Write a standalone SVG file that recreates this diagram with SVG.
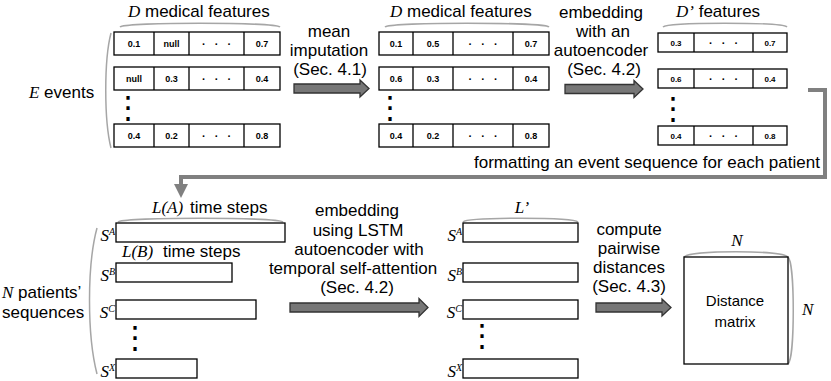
<svg xmlns="http://www.w3.org/2000/svg" width="831" height="381" viewBox="0 0 831 381">
<style>
.t{font-family:"Liberation Sans",Arial,sans-serif;font-size:17px;fill:#000}
.it{font-family:"Liberation Serif","Times New Roman",serif;font-style:italic}
.c{text-anchor:middle}
.cell{fill:#fff;stroke:#000;stroke-width:1.3}
.dv{stroke:#000;stroke-width:1.3}
.num{font-family:"Liberation Sans",Arial,sans-serif;font-weight:bold;font-size:9px;text-anchor:middle;fill:#000}
.n8{font-size:8px}
.dots{font-family:"Liberation Sans",Arial,sans-serif;font-weight:bold;font-size:11px;text-anchor:middle;word-spacing:6px}
.vd{font-family:"DejaVu Sans",sans-serif;font-size:31px;text-anchor:middle}
.brace{fill:none;stroke:#a6a6a6;stroke-width:1.5}
.blk{fill:#777;stroke:#333;stroke-width:1.3}
.conn{fill:none;stroke:#808080;stroke-width:4}
.seq{fill:#fff;stroke:#000;stroke-width:1.3}
.lab{font-family:"Liberation Serif","Times New Roman",serif;font-style:italic;font-size:17px;text-anchor:end}
.sup{font-size:10px}
.dm{font-family:"Liberation Sans",Arial,sans-serif;font-size:15px;text-anchor:middle}
</style>

<!-- Table 1: raw events -->
<g id="raw-events">
  <text class="t" x="128" y="17"><tspan class="it">D</tspan> medical features</text>
  <path class="brace" d="M120,27 C125,22 275,22 280,27"/>
  <text class="t" x="29" y="98"><tspan class="it">E</tspan> events</text>
  <path class="brace" d="M111,33 C104,60 104,120 111,148"/>
  <rect class="cell" x="114" y="32" width="166" height="23"/>
  <line class="dv" x1="154" y1="32" x2="154" y2="55"/><line class="dv" x1="189" y1="32" x2="189" y2="55"/><line class="dv" x1="244" y1="32" x2="244" y2="55"/>
  <rect class="cell" x="114" y="67" width="166" height="23"/>
  <line class="dv" x1="154" y1="67" x2="154" y2="90"/><line class="dv" x1="189" y1="67" x2="189" y2="90"/><line class="dv" x1="244" y1="67" x2="244" y2="90"/>
  <rect class="cell" x="114" y="124" width="166" height="23"/>
  <line class="dv" x1="154" y1="124" x2="154" y2="147"/><line class="dv" x1="189" y1="124" x2="189" y2="147"/><line class="dv" x1="244" y1="124" x2="244" y2="147"/>
  <text class="num" x="134" y="46.5">0.1</text><text class="num" x="171.5" y="46.5">null</text><text class="dots" x="216.5" y="47.5">· · ·</text><text class="num" x="262" y="46.5">0.7</text>
  <text class="num" x="134" y="81.5">null</text><text class="num" x="171.5" y="81.5">0.3</text><text class="dots" x="216.5" y="82.5">· · ·</text><text class="num" x="262" y="81.5">0.4</text>
  <text class="num" x="134" y="138.5">0.4</text><text class="num" x="171.5" y="138.5">0.2</text><text class="dots" x="216.5" y="139.5">· · ·</text><text class="num" x="262" y="138.5">0.8</text>
  <text class="vd" x="128" y="118">⋮</text>
</g>

<!-- Table 2: imputed events -->
<g id="imputed-events">
  <text class="t" x="390" y="17"><tspan class="it">D</tspan> medical features</text>
  <path class="brace" d="M385,27 C390,22 544,22 549,27"/>
  <rect class="cell" x="379" y="32" width="170" height="23"/>
  <line class="dv" x1="413" y1="32" x2="413" y2="55"/><line class="dv" x1="453" y1="32" x2="453" y2="55"/><line class="dv" x1="513" y1="32" x2="513" y2="55"/>
  <rect class="cell" x="379" y="67" width="170" height="23"/>
  <line class="dv" x1="413" y1="67" x2="413" y2="90"/><line class="dv" x1="453" y1="67" x2="453" y2="90"/><line class="dv" x1="513" y1="67" x2="513" y2="90"/>
  <rect class="cell" x="379" y="124" width="170" height="23"/>
  <line class="dv" x1="413" y1="124" x2="413" y2="147"/><line class="dv" x1="453" y1="124" x2="453" y2="147"/><line class="dv" x1="513" y1="124" x2="513" y2="147"/>
  <text class="num" x="396" y="46.5">0.1</text><text class="num" x="433" y="46.5">0.5</text><text class="dots" x="483" y="47.5">· · ·</text><text class="num" x="531" y="46.5">0.7</text>
  <text class="num" x="396" y="81.5">0.6</text><text class="num" x="433" y="81.5">0.3</text><text class="dots" x="483" y="82.5">· · ·</text><text class="num" x="531" y="81.5">0.4</text>
  <text class="num" x="396" y="138.5">0.4</text><text class="num" x="433" y="138.5">0.2</text><text class="dots" x="483" y="139.5">· · ·</text><text class="num" x="531" y="138.5">0.8</text>
  <text class="vd" x="390" y="118">⋮</text>
</g>

<!-- Table 3: embedded events -->
<g id="embedded-events">
  <text class="t" x="676" y="17"><tspan class="it">D’</tspan> features</text>
  <path class="brace" d="M663,27 C668,22 782,22 787,27"/>
  <rect class="cell" x="658" y="33" width="129" height="19"/>
  <line class="dv" x1="694" y1="33" x2="694" y2="52"/><line class="dv" x1="753" y1="33" x2="753" y2="52"/>
  <rect class="cell" x="658" y="69" width="129" height="19"/>
  <line class="dv" x1="694" y1="69" x2="694" y2="88"/><line class="dv" x1="753" y1="69" x2="753" y2="88"/>
  <rect class="cell" x="658" y="126" width="129" height="19"/>
  <line class="dv" x1="694" y1="126" x2="694" y2="145"/><line class="dv" x1="753" y1="126" x2="753" y2="145"/>
  <text class="num n8" x="676" y="45.5">0.3</text><text class="dots" x="723.5" y="46.5">· · ·</text><text class="num n8" x="770" y="45.5">0.7</text>
  <text class="num n8" x="676" y="81.5">0.6</text><text class="dots" x="723.5" y="82.5">· · ·</text><text class="num n8" x="770" y="81.5">0.4</text>
  <text class="num n8" x="676" y="138.5">0.4</text><text class="dots" x="723.5" y="139.5">· · ·</text><text class="num n8" x="770" y="138.5">0.8</text>
  <text class="vd" x="673" y="119">⋮</text>
</g>

<!-- Patient sequences -->
<g id="patient-sequences">
  <text class="t it" x="152" y="213">L(A)</text><text class="t" x="190" y="213">time steps</text>
  <path class="brace" d="M118,222 C123,217 278,217 283,222"/>
  <text class="t it" x="122" y="257">L(B)</text><text class="t" x="163" y="257">time steps</text>
  <text class="t" x="2" y="298"><tspan class="it">N</tspan> patients’</text>
  <text class="t" x="2" y="318">sequences</text>
  <path class="brace" d="M97,228 C87,265 87,335 97,374"/>
  <rect class="seq" x="116" y="223" width="169" height="19"/>
  <rect class="seq" x="116" y="263" width="116" height="19"/>
  <rect class="seq" x="116" y="300" width="140" height="19"/>
  <rect class="seq" x="116" y="359" width="81" height="19"/>
  <text class="lab" x="115" y="241">S<tspan class="sup" dy="-6">A</tspan></text>
  <text class="lab" x="115" y="281">S<tspan class="sup" dy="-6">B</tspan></text>
  <text class="lab" x="115" y="318">S<tspan class="sup" dy="-6">C</tspan></text>
  <text class="lab" x="115" y="377">S<tspan class="sup" dy="-6">X</tspan></text>
  <text class="vd" x="135" y="348">⋮</text>
</g>

<!-- Embedded sequences -->
<g id="embedded-sequences">
  <text class="t it c" x="522" y="213">L’</text>
  <path class="brace" d="M463,222 C468,217 573,217 578,222"/>
  <rect class="seq" x="463" y="223" width="115" height="19"/>
  <rect class="seq" x="463" y="263" width="115" height="19"/>
  <rect class="seq" x="463" y="300" width="115" height="19"/>
  <rect class="seq" x="463" y="359" width="115" height="19"/>
  <text class="lab" x="462" y="241">S<tspan class="sup" dy="-6">A</tspan></text>
  <text class="lab" x="462" y="281">S<tspan class="sup" dy="-6">B</tspan></text>
  <text class="lab" x="462" y="318">S<tspan class="sup" dy="-6">C</tspan></text>
  <text class="lab" x="462" y="377">S<tspan class="sup" dy="-6">X</tspan></text>
  <text class="vd" x="482" y="346">⋮</text>
</g>

<!-- Distance matrix -->
<g id="distance-matrix">
  <text class="t it c" x="737" y="246">N</text>
  <path class="brace" d="M684,257 C690,250 782,250 788,257"/>
  <text class="t it" x="802" y="315">N</text>
  <path class="brace" d="M788,257 C795,263 795,358 788,364"/>
  <rect class="seq" x="684" y="257" width="104" height="107"/>
  <text class="dm" x="735" y="306">Distance</text>
  <text class="dm" x="735" y="327">matrix</text>
</g>

<!-- Connectors -->
<g id="connectors">
  <path class="blk" d="M294,84 H360 V80 L369,88.5 L360,97 V93 H294 Z"/>
  <text class="t c" x="329" y="37">mean</text>
  <text class="t c" x="329" y="56">imputation</text>
  <text class="t c" x="330" y="75">(Sec. 4.1)</text>

  <path class="blk" d="M565,84.5 H634 V80.5 L643,89 L634,97.5 V93.5 H565 Z"/>
  <text class="t c" x="601" y="18">embedding</text>
  <text class="t c" x="603" y="37">with an</text>
  <text class="t c" x="601" y="56">autoencoder</text>
  <text class="t c" x="604" y="75">(Sec. 4.2)</text>

  <path class="conn" d="M808,90 H825 V177 H181 V186"/>
  <polygon points="174,184 188,184 181,198" fill="#808080"/>
  <text class="t" x="474" y="168">formatting an event sequence for each patient</text>

  <path class="blk" d="M290,303 H419 V298.5 L428,307.5 L419,316.5 V312 H290 Z"/>
  <text class="t c" x="357" y="216">embedding</text>
  <text class="t c" x="358" y="236">using LSTM</text>
  <text class="t c" x="359" y="255">autoencoder with</text>
  <text class="t c" x="353" y="274">temporal self-attention</text>
  <text class="t c" x="357" y="293">(Sec. 4.2)</text>

  <path class="blk" d="M596,303 H662 V299 L671,307.5 L662,316 V312 H596 Z"/>
  <text class="t c" x="629" y="235">compute</text>
  <text class="t c" x="629" y="254">pairwise</text>
  <text class="t c" x="629" y="273">distances</text>
  <text class="t c" x="629" y="292">(Sec. 4.3)</text>
</g>
</svg>
